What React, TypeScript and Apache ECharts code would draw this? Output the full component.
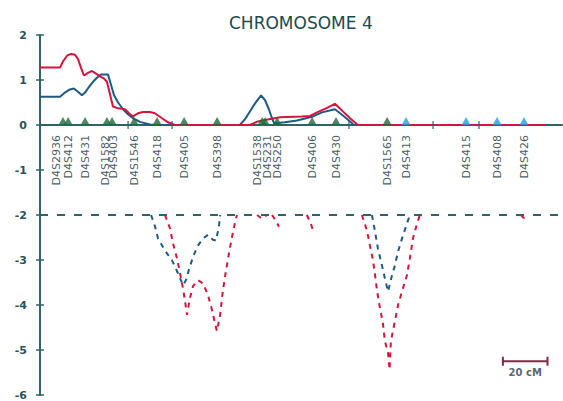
import React, { useEffect, useRef } from "react";
import * as echarts from "echarts";

const chartTitle = "CHROMOSOME 4";

// marker map positions (cM)
const greenMarkerNames = [
  "D4S2936", "D4S412", "D4S431", "D4S1582", "D4S403", "D4S1546", "D4S418",
  "D4S405", "D4S398", "D4S1538", "D4S231", "D4S250", "D4S406", "D4S430", "D4S1565",
];
const greenMarkerCm = [10.3, 12.6, 20.2, 30.0, 32.3, 42.2, 52.5, 64.6, 79.4, 99.6, 100.9, 106.3, 122.0, 132.7, 155.6];
const blueMarkerNames = ["D4S413", "D4S415", "D4S408", "D4S426"];
const blueMarkerCm = [164.1, 191.0, 204.9, 217.0];
const intervalTickCm = [39.5, 59.2, 138.5, 176.2, 196.8];

// LOD scores (upper curves, cM / LOD)
const redUpper: number[][] = [
  [0, 1.28], [9.0, 1.28], [10.3, 1.41], [12.1, 1.54], [13.9, 1.58], [15.7, 1.56], [17.0, 1.47],
  [18.4, 1.27], [19.7, 1.1], [21.5, 1.16], [23.3, 1.2], [25.1, 1.14], [26.9, 1.08], [28.7, 1.03],
  [30.0, 0.96], [31.4, 0.68], [32.7, 0.41], [35.0, 0.37], [38.1, 0.35], [39.9, 0.26], [41.7, 0.19],
  [43.9, 0.26], [46.2, 0.29], [49.3, 0.29], [51.5, 0.26], [54.7, 0.15], [57.4, 0.06], [60.5, 0],
  [94.1, 0], [97.7, 0.08], [100.9, 0.11], [107.6, 0.17], [117.4, 0.19], [121.0, 0.2], [124.2, 0.28],
  [128.2, 0.37], [132.2, 0.47], [135.4, 0.32], [139.0, 0.15], [142.5, 0], [226.4, 0],
];
const blueUpper: number[][] = [
  [0, 0.63], [9.0, 0.63], [11.2, 0.72], [13.4, 0.79], [15.2, 0.81], [17.0, 0.74], [18.8, 0.66],
  [20.2, 0.72], [22.0, 0.85], [23.8, 0.96], [25.5, 1.05], [27.3, 1.12], [30.5, 1.12], [31.8, 0.9],
  [33.2, 0.66], [35.0, 0.5], [37.2, 0.35], [39.4, 0.24], [41.7, 0.15], [44.8, 0.07], [49.3, 0.01],
  [52.4, 0], [89.6, 0], [91.9, 0.13], [94.1, 0.3], [96.4, 0.48], [99.1, 0.66], [100.9, 0.55],
  [102.6, 0.35], [104.0, 0.15], [104.9, 0.04], [109.8, 0.06], [115.2, 0.1], [122.4, 0.19],
  [126.4, 0.28], [132.2, 0.35], [135.8, 0.21], [139.0, 0.08], [140.7, 0], [226.4, 0],
];

// exclusion (LOD < -2) segments
const redLower: number[][][] = [
  [
    [56.0, -2], [58.3, -2.3], [59.6, -2.63], [61.4, -2.96], [62.8, -3.3], [64.1, -3.63], [65.0, -3.91],
    [65.9, -4.22], [67.2, -3.85], [68.6, -3.58], [70.8, -3.45], [73.1, -3.52], [75.3, -3.78],
    [77.1, -4.11], [78.4, -4.4], [79.3, -4.58], [80.7, -4.24], [82.0, -3.67], [83.4, -3.23],
    [84.7, -2.85], [86.1, -2.48], [87.4, -2.17], [88.3, -2],
  ],
  [[97.3, -2], [99.5, -2.08], [101.7, -2]],
  [[104.0, -2], [105.8, -2.13], [107.1, -2.26]],
  [[119.6, -2], [121.3, -2.18], [122.4, -2.34]],
  [
    [144.3, -2], [146.6, -2.35], [147.9, -2.68], [149.3, -3.01], [150.2, -3.34], [151.1, -3.69],
    [152.4, -4.07], [153.7, -4.4], [154.6, -4.8], [156.0, -5.06], [156.7, -5.44], [157.3, -4.8],
    [159.1, -4.36], [160.5, -4.0], [162.7, -3.63], [164.5, -3.34], [165.8, -2.96], [167.2, -2.52],
    [169.0, -2.19], [170.3, -2],
  ],
  [[215.6, -2], [216.9, -2.07], [217.8, -2]],
];
const blueLower: number[][][] = [
  [
    [49.8, -2], [51.6, -2.26], [52.9, -2.52], [56.0, -2.79], [59.2, -3.01], [61.9, -3.3], [64.1, -3.56],
    [65.4, -3.45], [67.2, -3.14], [69.0, -2.88], [70.8, -2.68], [73.1, -2.52], [75.3, -2.44],
    [77.5, -2.55], [78.9, -2.57], [80.2, -2.26], [80.7, -2],
  ],
  [
    [148.8, -2], [150.2, -2.37], [151.5, -2.75], [153.3, -3.12], [154.6, -3.41], [156.0, -3.7],
    [157.8, -3.34], [159.1, -3.12], [160.5, -2.81], [162.3, -2.52], [164.5, -2.19], [165.8, -2],
  ],
];

const exclusionThreshold = -2;
const xMaxCm = 234;
const yMin = -6;
const yMax = 2;
const scaleBarStartCm = 207.5;
const scaleBarLengthCm = 20;
const scaleBarLod = -5.25;
const scaleBarText = "20 cM";

// style: horizontal label shifts (px) for crowded marker names
const labelShiftPx: Record<string, number> = {
  D4S2936: -6,
  D4S412: 0,
  D4S1582: -1,
  D4S403: 1,
  D4S1538: -5,
  D4S231: 2,
};

const AXIS = "#2e6468";
const RED = "#d3143c";
const BLUE = "#1f5a85";

export default function App() {
  const ref = useRef<HTMLDivElement>(null);
  useEffect(() => {
    document.body.style.margin = "0";
    const chart = echarts.init(ref.current!, undefined, { renderer: "svg" });

    const allNames = [...greenMarkerNames, ...blueMarkerNames];
    const allCm = [...greenMarkerCm, ...blueMarkerCm];

    const lowerSeries = (segs: number[][][], color: string) =>
      segs.map((seg) => ({
        type: "line",
        data: seg,
        showSymbol: false,
        symbol: "none",
        lineStyle: { color, width: 2, type: [5, 5] },
        z: 3,
      }));

    const option: any = {
      animation: false,
      backgroundColor: "#ffffff",
      title: {
        text: chartTitle,
        left: 224,
        top: 9,
        textStyle: { fontFamily: "DejaVu Sans", fontSize: 17, fontWeight: "normal", color: "#1a4a50" },
      },
      grid: { left: 40, right: 1, top: 35, bottom: 6 },
      xAxis: {
        type: "value",
        min: 0,
        max: xMaxCm,
        axisLine: { onZero: true, lineStyle: { color: AXIS, width: 2 } },
        axisTick: { show: false },
        axisLabel: { show: false },
        splitLine: { show: false },
      },
      yAxis: [
        {
          type: "value",
          min: yMin,
          max: yMax,
          interval: 1,
          axisLine: { show: true, onZero: false, lineStyle: { color: AXIS, width: 2 } },
          axisTick: { show: true, length: 4, lineStyle: { color: AXIS, width: 1.5 } },
          axisLabel: {
            margin: 13,
            fontFamily: "DejaVu Sans",
            fontWeight: "bold",
            fontSize: 11,
            color: "#2c5258",
          },
          splitLine: { show: false },
        },
        {
          type: "value",
          min: yMin,
          max: yMax,
          interval: 1,
          position: "left",
          axisLine: { show: false, onZero: false },
          axisTick: { show: true, inside: true, length: 4, lineStyle: { color: AXIS, width: 1.5 } },
          axisLabel: { show: false },
          splitLine: { show: false },
        },
      ],
      series: [
        {
          type: "line",
          data: [[0, exclusionThreshold], [xMaxCm, exclusionThreshold]],
          showSymbol: false,
          symbol: "none",
          lineStyle: { color: AXIS, width: 2, type: [8, 9] },
          z: 2,
        },
        ...lowerSeries(blueLower, BLUE),
        ...lowerSeries(redLower, RED),
        {
          type: "line",
          data: blueUpper,
          showSymbol: false,
          symbol: "none",
          lineStyle: { color: BLUE, width: 2 },
          z: 4,
        },
        {
          type: "line",
          data: redUpper,
          showSymbol: false,
          symbol: "none",
          lineStyle: { color: RED, width: 2 },
          z: 5,
        },
        {
          type: "scatter",
          data: intervalTickCm.map((c) => [c, 0]),
          symbol: "rect",
          symbolSize: [1.5, 8],
          itemStyle: { color: AXIS },
          z: 6,
        },
        {
          type: "scatter",
          data: greenMarkerCm.map((c) => [c, 0]),
          symbol: "triangle",
          symbolSize: [9, 8],
          symbolOffset: [0, -4],
          itemStyle: { color: "#1d6a3b" },
          z: 7,
        },
        {
          type: "scatter",
          data: blueMarkerCm.map((c) => [c, 0]),
          symbol: "triangle",
          symbolSize: [9, 8],
          symbolOffset: [0, -4],
          itemStyle: { color: "#1ea0dd" },
          z: 7,
        },
        {
          type: "scatter",
          data: allCm.map((c, i) => ({
            value: [c, 0],
            label: {
              show: true,
              formatter: allNames[i],
              position: [1 + (labelShiftPx[allNames[i]] || 0), 1 + 10],
              rotate: 90,
              align: "right",
              verticalAlign: "middle",
              fontFamily: "DejaVu Sans",
              fontSize: 11,
              color: "#142f33",
            },
          })),
          symbol: "circle",
          symbolSize: 2,
          itemStyle: { color: "rgba(0,0,0,0)" },
          silent: true,
          z: 8,
        },
        {
          type: "line",
          data: [[scaleBarStartCm, scaleBarLod], [scaleBarStartCm + scaleBarLengthCm, scaleBarLod]],
          symbol: "rect",
          symbolSize: [2, 9],
          showSymbol: true,
          itemStyle: { color: "#7d2e45" },
          lineStyle: { color: "#7d2e45", width: 2 },
          z: 8,
        },
        {
          type: "scatter",
          data: [
            {
              value: [scaleBarStartCm + scaleBarLengthCm / 2, scaleBarLod],
              label: {
                show: true,
                formatter: scaleBarText,
                position: [1, 1 + 11],
                align: "center",
                verticalAlign: "middle",
                fontFamily: "DejaVu Sans",
                fontWeight: "bold",
                fontSize: 10,
                color: "#34384a",
              },
            },
          ],
          symbol: "circle",
          symbolSize: 2,
          itemStyle: { color: "rgba(0,0,0,0)" },
          silent: true,
          z: 8,
        },
      ],
    };
    chart.setOption(option);
    return () => chart.dispose();
  }, []);
  return <div ref={ref} style={{ width: 563, height: 401 }} />;
}
